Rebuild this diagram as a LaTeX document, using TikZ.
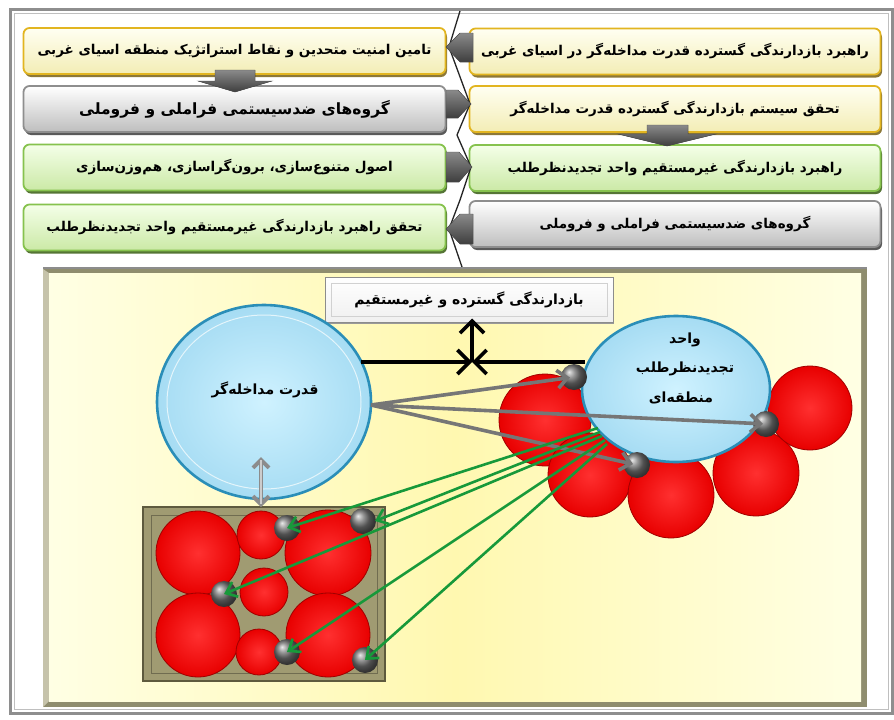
\documentclass[tikz,border=0pt]{standalone}
\usepackage{fontspec}
\usetikzlibrary{shapes.geometric,arrows.meta,shadows,calc}
\newfontfamily\fa[Script=Arabic]{DejaVu Sans}
\TeXXeTstate=1
\newcommand\rl[1]{{\fa\bfseries\beginR #1\endR}}
\definecolor{ygold}{HTML}{E2B520}
\definecolor{ytop}{HTML}{FFFFF2}
\definecolor{ybot}{HTML}{F3EDB5}
\definecolor{yshad}{HTML}{8C7838}
\definecolor{gborder}{HTML}{8E8E8E}
\definecolor{gbot}{HTML}{BEBEBE}
\definecolor{gshad}{HTML}{5A5A5A}
\definecolor{grborder}{HTML}{86C24E}
\definecolor{grtop}{HTML}{F4FFE8}
\definecolor{grbot}{HTML}{CBE9A6}
\definecolor{grshad}{HTML}{557535}
\definecolor{chevdark}{HTML}{3E3E3E}
\definecolor{chevlight}{HTML}{8A8A8A}
\definecolor{frameol}{HTML}{8F8D6E}
\definecolor{paleY}{HTML}{FFFFE4}
\definecolor{midY}{HTML}{FFF8B0}
\definecolor{olive}{HTML}{A09B72}
\definecolor{olivedark}{HTML}{5E5A3E}
\definecolor{blueedge}{HTML}{2A8EB8}
\definecolor{bluein}{HTML}{CFF2FF}
\definecolor{blueout}{HTML}{A6DCF3}
\definecolor{redin}{HTML}{FF3030}
\definecolor{redout}{HTML}{E80000}
\definecolor{rededge}{HTML}{A00000}
\definecolor{arrgray}{HTML}{767676}
\definecolor{arrgreen}{HTML}{17993A}
\tikzset{
  boxbase/.style={rectangle, rounded corners=6pt, inner sep=0pt, line width=1.8pt,
    minimum height=46pt, font=\fontsize{13.5}{16}\selectfont},
  ybox/.style={boxbase, draw=ygold, top color=ytop, bottom color=ybot,
    drop shadow={shadow xshift=1.5pt, shadow yshift=-3pt, fill=yshad, opacity=1}},
  gbox/.style={boxbase, draw=gborder, top color=white, bottom color=gbot,
    drop shadow={shadow xshift=1.5pt, shadow yshift=-3pt, fill=gshad, opacity=1}},
  grbox/.style={boxbase, draw=grborder, top color=grtop, bottom color=grbot,
    drop shadow={shadow xshift=1.5pt, shadow yshift=-3pt, fill=grshad, opacity=1}},
  leftcol/.style={minimum width=422pt},
  rightcol/.style={minimum width=411pt},
  chev/.style={top color=chevlight, bottom color=chevdark, draw=black!70, line width=0.4pt},
  bluell/.style={ellipse, inner sep=0pt, draw=blueedge, line width=2.6pt,
    shading=radial, inner color=bluein, outer color=blueout},
  redc/.style={draw=rededge, line width=0.8pt, shading=radial, inner color=redin, outer color=redout},
  sball/.style={circle, minimum size=26pt, inner sep=0pt, shading=ball, ball color=gray!90!black},
  garrow/.style={draw=arrgray, line width=3.6pt, -{Straight Barb[length=10pt,width=18pt]}},
  barrow/.style={draw=black, line width=3.6pt, -{Straight Barb[length=12pt,width=24pt]}},
  grarrow/.style={draw=arrgreen, line width=2.6pt, -{Straight Barb[length=10pt,width=16pt]}},
  lbl/.style={inner sep=0pt, font=\fontsize{14}{16}\selectfont, align=center},
}
\begin{document}
\begin{tikzpicture}[x=1pt,y=-1pt]
\useasboundingbox (0,0) rectangle (894,720);
\fill[white] (0,0) rectangle (894,720);
% outer frame
\draw[gborder, line width=3pt] (10,9) rectangle (892,713);
\draw[black!25, line width=1pt] (14,13) rectangle (888,709);

% top left column
\node[ybox, leftcol] (L1) at (234.5,51) {\rl{تامین امنیت متحدین و نقاط استراتژیک منطقه اسیای غربی}};
\node[gbox, leftcol, font=\fontsize{15.5}{18}\selectfont] (L2) at (234.5,109) {\rl{گروه‌های ضدسیستمی فراملی و فروملی}};
\node[grbox, leftcol] (L3) at (234.5,167.5) {\rl{اصول متنوع‌سازی، برون‌گراسازی، هم‌وزن‌سازی}};
\node[grbox, leftcol] (L4) at (234.5,227.5) {\rl{تحقق راهبرد بازدارندگی غیرمستقیم واحد تجدیدنظرطلب}};
% top right column
\node[ybox, rightcol] (R1) at (675,51.5) {\rl{راهبرد بازدارندگی گسترده قدرت مداخله‌گر در اسیای غربی}};
\node[ybox, rightcol] (R2) at (675,109) {\rl{تحقق سیستم بازدارندگی گسترده قدرت مداخله‌گر}};
\node[grbox, rightcol] (R3) at (675,168) {\rl{راهبرد بازدارندگی غیرمستقیم واحد تجدیدنظرطلب}};
\node[gbox, rightcol] (R4) at (675,224) {\rl{گروه‌های ضدسیستمی فراملی و فروملی}};

% down chevrons
\fill[chev] (215,70) -- (255,70) -- (255,81) -- (272,81) -- (235,92) -- (198,81) -- (215,81) -- cycle;
\fill[chev] (647,125) -- (688,125) -- (688,134) -- (716,134) -- (667,146) -- (618,134) -- (647,134) -- cycle;

% central zigzag
\draw[black!85, line width=1.3pt] (460,11) -- (449,47) -- (470,104) -- (457,135) -- (471,167) -- (460,200) -- (449,229) -- (462,267);
\fill[chev] (446,47) -- (460,33) -- (473,33) -- (473,62) -- (460,62) -- cycle;
\fill[chev] (446,90) -- (458,90) -- (471,104) -- (458,118) -- (446,118) -- cycle;
\fill[chev] (446,152) -- (459,152) -- (472,167) -- (459,182) -- (446,182) -- cycle;
\fill[chev] (446,229) -- (460,214) -- (473,214) -- (473,244) -- (460,244) -- cycle;

% bottom yellow panel
\fill[frameol] (43,267) rectangle (867,707);
\fill[black!45] (43,267) rectangle (867,269);
\fill[olive!60!white] (43,269) -- (49,273) -- (49,701) -- (43,707) -- cycle;
\fill[left color=paleY, right color=paleY, middle color=midY] (49,273) rectangle (861,701);

% top label box
\node[rectangle, draw=black!45, line width=1pt, top color=white, bottom color=black!6, minimum width=288pt, minimum height=45pt,
  inner sep=0pt, font=\fontsize{14}{16}\selectfont,
  drop shadow={shadow xshift=1pt, shadow yshift=-1.5pt, fill=black!40, opacity=1}] (bx) at (469,299.5)
  {\rl{بازدارندگی گسترده و غیرمستقیم}};
\draw[black!18, line width=0.8pt] (331,283) rectangle (607,316);

% red circles around right ellipse
\path[redc] (545,420) circle[radius=46pt];
\path[redc] (590,475) circle[radius=42pt];
\path[redc] (671,495) circle[radius=43pt];
\path[redc] (756,473) circle[radius=43pt];
\path[redc] (810,408) circle[radius=42pt];

% ellipses
\node[bluell, minimum width=214pt, minimum height=194pt] (qe) at (264,402) {};
\draw[white!70!blueout, line width=1pt] (264,402) ellipse[x radius=97pt, y radius=87pt];
\node[lbl] (qt) at (265,390) {\rl{قدرت مداخله‌گر}};
\node[bluell, minimum width=188pt, minimum height=146pt] (re) at (676,389) {};
\node[lbl] (rt1) at (685,340) {\rl{واحد}};
\node[lbl] (rt2) at (685,369) {\rl{تجدیدنظرطلب}};
\node[lbl] (rt3) at (681,398) {\rl{منطقه‌ای}};

% olive box with circles
\node[rectangle, fill=olive, draw=olivedark, line width=1.5pt, minimum width=242pt, minimum height=174pt, inner sep=0pt] (ob) at (264,594) {};
\draw[olive!70!black, line width=0.8pt] (151,515) rectangle (377,673);
\path[redc] (198,553) circle[radius=42pt];
\path[redc] (261,535) circle[radius=24pt];
\path[redc] (328,553) circle[radius=43pt];
\path[redc] (264,592) circle[radius=24pt];
\path[redc] (198,635) circle[radius=42pt];
\path[redc] (259,652) circle[radius=23pt];
\path[redc] (328,635) circle[radius=42pt];

% balls
\node[sball] (b1) at (574,377) {};
\node[sball] (b2) at (766,424) {};
\node[sball] (b3) at (637,465) {};
\node[sball] (c1) at (287,528) {};
\node[sball] (c2) at (363,521) {};
\node[sball] (c3) at (224,594) {};
\node[sball] (c4) at (287,652) {};
\node[sball] (c5) at (365,660) {};

% black arrows
\coordinate (bl) at (361,362);
\coordinate (br) at (585,362);
\coordinate (bm) at (472,362);
\draw[barrow] (bl) -- (bm);
\draw[barrow] (br) -- (bm);
\draw[barrow] (bm) -- ([yshift=4pt]bx.south -| bm);

% gray arrows
\coordinate (qs) at (371,405);
\draw[garrow, shorten >=4pt] (qs) -- (b1.center);
\draw[garrow, shorten >=3pt] (qs) -- (b2.center);
\draw[garrow, shorten >=4pt] (qs) -- (b3.center);

% green arrows
\coordinate (g1) at (598,428);
\coordinate (g2) at (600,432);
\coordinate (g3) at (602,436);
\coordinate (g4) at (605,440);
\coordinate (g5) at (607,444);
\draw[grarrow] (g1) -- (c1.center);
\draw[grarrow] (g2) -- ([xshift=12pt]c2.center);
\draw[grarrow] (g3) -- (c3.center);
\draw[grarrow] (g4) -- (c4.center);
\draw[grarrow] (g5) -- (c5.center);

% double gray arrow
\coordinate (d1) at (261,457);
\coordinate (d2) at (261,507);
\draw[black!45, line width=4pt, {Straight Barb[length=8pt,width=16pt]}-{Straight Barb[length=8pt,width=16pt]}] (d1) -- (d2);
\draw[black!20, line width=1.5pt, shorten <=3pt, shorten >=3pt] (d1) -- (d2);
\end{tikzpicture}
\end{document}
